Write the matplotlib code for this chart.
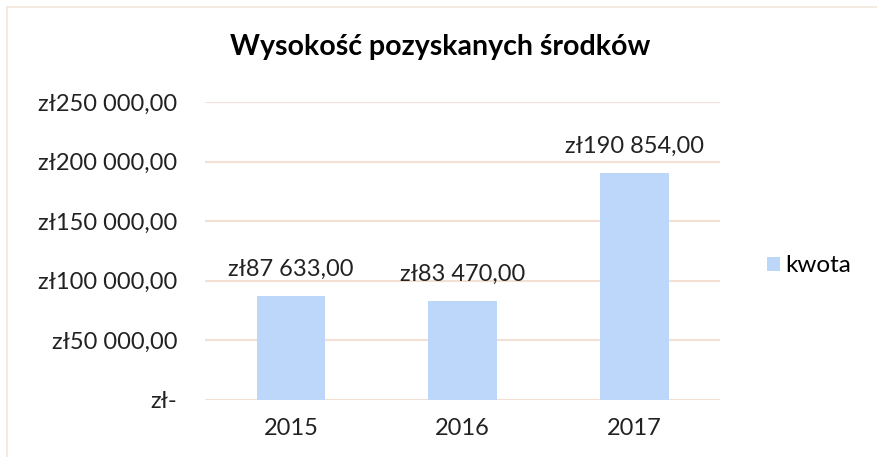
import matplotlib.pyplot as plt
from matplotlib.patches import Rectangle

# Data
years = ["2015", "2016", "2017"]
kwota = [87633, 83470, 190854]
bar_labels = ["zł87 633,00", "zł83 470,00", "zł190 854,00"]
y_ticks = [0, 50000, 100000, 150000, 200000, 250000]
y_tick_labels = ["zł-", "zł50 000,00", "zł100 000,00", "zł150 000,00",
                 "zł200 000,00", "zł250 000,00"]

bar_color = "#BDD7FA"
grid_color = "#F4E0D3"
border_color = "#F1E6DC"
fs = 17

plt.rcParams['font.family'] = ['Lato', 'DejaVu Sans']

W, H = 877, 457
fig = plt.figure(figsize=(W / 100, H / 100), dpi=100)

# chart border, cut off at right/bottom like the original
fig.patches.append(Rectangle((7 / W, -0.5), 2, 1 - 7 / H + 0.5,
                             transform=fig.transFigure, fill=False,
                             edgecolor=border_color, linewidth=1.2))

ax = fig.add_axes([205 / W, (H - 400) / H, 515 / W, 298 / H])
x = range(len(years))
bars = ax.bar(x, kwota, width=0.4, color=bar_color, label="kwota", zorder=2)

ax.set_xlim(-0.5, len(years) - 0.5)
ax.set_ylim(0, 250000)
ax.set_yticks(y_ticks)
ax.set_yticklabels(y_tick_labels)
ax.set_xticks(list(x))
ax.set_xticklabels(years)
ax.tick_params(axis='y', length=0, pad=20, labelsize=fs, labelcolor="#222222")
ax.tick_params(axis='x', length=0, pad=13, labelsize=fs, labelcolor="#222222")

for sp in ax.spines.values():
    sp.set_visible(False)
ax.grid(axis='y', color=grid_color, linewidth=1.5, zorder=0)
ax.set_axisbelow(True)

for b, lab in zip(bars, bar_labels):
    ax.annotate(lab, (b.get_x() + b.get_width() / 2, b.get_height()),
                xytext=(0, 11), textcoords="offset points",
                ha="center", va="bottom", fontsize=fs, color="#222222")

fig.text(440 / W, 1 - 47 / H, "Wysokość pozyskanych środków",
         ha="center", va="center", fontsize=20.5, fontweight="bold", color="black")

leg = fig.legend(loc="center left", bbox_to_anchor=(757 / W, 1 - 266 / H),
                 frameon=False, fontsize=fs + 0.5, handlelength=0.55, handleheight=0.55,
                 handletextpad=0.2, borderaxespad=0)

fig.savefig("out.png", dpi=100)
